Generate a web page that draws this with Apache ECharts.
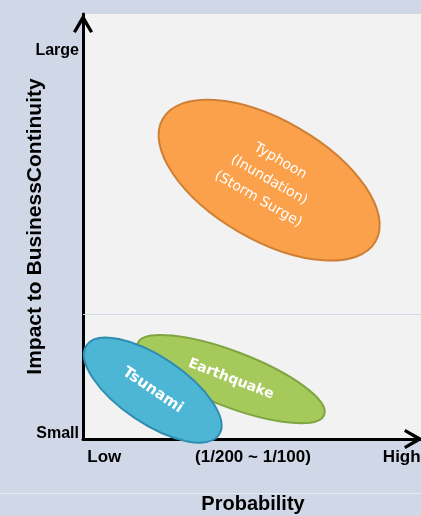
<!DOCTYPE html>
<html>
<head>
<meta charset="utf-8">
<script src="https://cdn.jsdelivr.net/npm/echarts@6/dist/echarts.min.js"></script>
<style>
  html, body { margin: 0; padding: 0; background: #d0d8e8; }
  #chart { width: 421px; height: 516px; }
</style>
</head>
<body>
<div id="chart"></div>
<script>
// Hazards placed on the probability / impact plane
const hazards = ['Typhoon\n(Inundation)\n(Storm Surge)', 'Earthquake', 'Tsunami'];
const probability = [43.8, 34.8, 16.4];   // centre of each zone (x)
const impact = [60.9, 14.1, 11.5];        // centre of each zone (y)
const spreadMajor = [28.9, 23.5, 18.8];   // half-length along the long side
const spreadMinor = [14.1, 6.5, 7.8];     // half-length along the short side
const tilt = [30, 21, 34];                // degrees, turned clockwise

// Axis tick labels
const xTickValues = [5, 40, 75];
const xTickLabels = ['Low', '(1/200 ~ 1/100)', 'High'];
const yTickValues = [1.2, 91.4];
const yTickLabels = ['Small', 'Large'];

// Styling
const fills = ['#fba14c', '#a6c95c', '#4cb6d4'];
const strokes = ['#cf7f34', '#7fa542', '#2f8db1'];
const labelFonts = ['14px "DejaVu Sans"', 'bold 14px "DejaVu Sans"', 'bold 15px "DejaVu Sans"'];
const FONT = '"Liberation Sans", Arial, sans-serif';
const chevron = 'path://M10,0 L20,17.5 L17.2,19 L10,6.9 L2.8,19 L0,17.5 Z';

const zones = hazards.map((h, i) => [probability[i], impact[i], spreadMajor[i], spreadMinor[i], tilt[i]]);

const chart = echarts.init(document.getElementById('chart'), null, { renderer: 'canvas' });

chart.setOption({
  backgroundColor: '#d0d8e8',
  animation: false,
  grid: {
    left: 83, top: 14, right: -2, bottom: 77,
    outerBoundsMode: 'none',
    show: true, backgroundColor: '#f2f2f2', borderWidth: 0
  },
  xAxis: {
    type: 'value', min: 0, max: 80,
    axisLine: {
      show: true, onZero: false,
      lineStyle: { color: '#000', width: 3 },
      symbol: ['none', chevron], symbolSize: [20, 19], symbolOffset: [0, -9.5]
    },
    axisTick: { show: false },
    splitLine: { show: false },
    axisLabel: {
      customValues: xTickValues,
      formatter: v => xTickLabels[xTickValues.indexOf(v)],
      color: '#000', fontFamily: FONT, fontWeight: 'bold', fontSize: 17, margin: 10
    },
    name: 'Probability', nameLocation: 'middle', nameGap: 55, nameMoveOverlap: false,
    nameTextStyle: { color: '#000', fontFamily: FONT, fontWeight: 'bold', fontSize: 20 }
  },
  yAxis: {
    type: 'value', min: 0, max: 100,
    axisLine: {
      show: true, onZero: false,
      lineStyle: { color: '#000', width: 3 },
      symbol: ['none', chevron], symbolSize: [20, 19], symbolOffset: [0, -9.5]
    },
    axisTick: { show: false },
    splitLine: { show: false },
    axisLabel: {
      customValues: yTickValues,
      formatter: v => yTickLabels[yTickValues.indexOf(v)],
      color: '#000', fontFamily: FONT, fontWeight: 'bold', fontSize: 16, margin: 4
    },
    name: 'Impact to BusinessContinuity', nameLocation: 'middle', nameRotate: 90,
    nameGap: 37, nameMoveOverlap: false,
    nameTextStyle: { color: '#000', fontFamily: FONT, fontWeight: 'bold', fontSize: 21 }
  },
  graphic: [{
    type: 'line', silent: true, z: -1,
    shape: { x1: 0, y1: 493.5, x2: 421, y2: 493.5 },
    style: { stroke: '#e6eaf2', lineWidth: 1 }
  }],
  series: [{
    type: 'custom',
    coordinateSystem: 'cartesian2d',
    clip: false,
    data: zones,
    renderItem: (params, api) => {
      const i = params.dataIndex;
      const c = api.coord([api.value(0), api.value(1)]);
      const s = api.size([api.value(2), api.value(3)]);
      return {
        type: 'group',
        x: c[0], y: c[1],
        rotation: -api.value(4) * Math.PI / 180,
        children: [{
          type: 'ellipse',
          shape: { cx: 0, cy: 0, rx: s[0], ry: s[1] },
          style: { fill: fills[i], stroke: strokes[i], lineWidth: 2 }
        }, {
          type: 'text',
          style: {
            text: hazards[i], x: 0, y: 0,
            align: 'center', verticalAlign: 'middle',
            fill: '#ffffff', font: labelFonts[i], lineHeight: 22
          }
        }]
      };
    },
    markLine: {
      silent: true, symbol: 'none', animation: false,
      label: { show: false },
      lineStyle: { color: '#d0d8e8', width: 1, type: 'solid' },
      data: [{ yAxis: 29.4 }]
    }
  }]
});
</script>
</body>
</html>
